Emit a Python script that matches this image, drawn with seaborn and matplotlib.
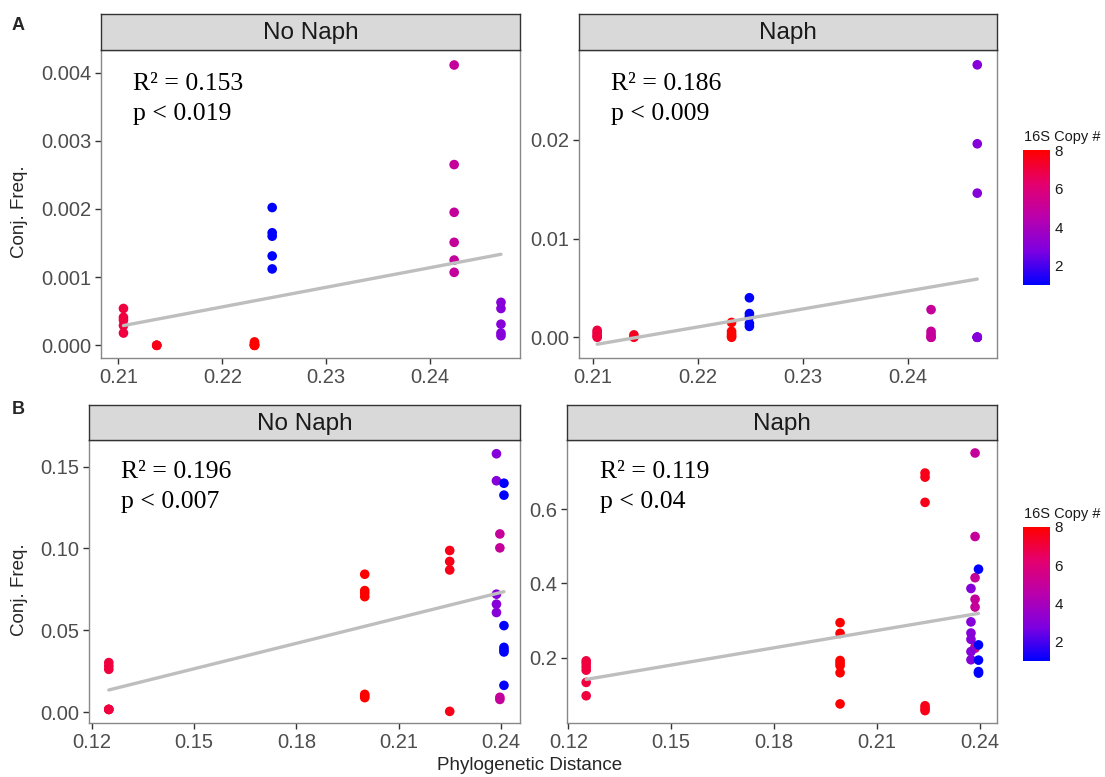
import numpy as np
import pandas as pd
import matplotlib
matplotlib.use("Agg")
import matplotlib.pyplot as plt
import seaborn as sns
from matplotlib.colors import LinearSegmentedColormap, Normalize
from matplotlib.cm import ScalarMappable
from matplotlib.ticker import FormatStrFormatter

sns.set_theme(style="white")
plt.rcParams['font.family'] = ['Liberation Sans', 'DejaVu Sans']

# ---------------- data ----------------
# Panel A, No Naph
a_nn_dist = [0.2105]*5 + [0.2137]*3 + [0.2231]*6 + [0.2248]*5 + [0.2423]*6 + [0.2468]*5
a_nn_freq = [0.00054, 0.00041, 0.00037, 0.00029, 0.00018,
             0.0, 0.0, 0.0,
             0.00005, 0.00003, 0.00001, 0.0, 0.0, 0.0,
             0.00202, 0.00165, 0.00160, 0.00131, 0.00112,
             0.00411, 0.00265, 0.00195, 0.00151, 0.00125, 0.00107,
             0.00063, 0.00054, 0.00031, 0.00018, 0.00014]
a_nn_copy = [7]*5 + [7.6]*3 + [8]*6 + [1]*5 + [5]*6 + [3]*5

# Panel A, Naph
a_n_dist = [0.2104]*5 + [0.2139]*2 + [0.2232]*5 + [0.2249]*5 + [0.2422]*5 + [0.2466]*7
a_n_freq = [0.0007, 0.0005, 0.0003, 0.0001, 0.0,
            0.00024, 0.0,
            0.0015, 0.0006, 0.00034, 0.00014, 0.0,
            0.0040, 0.0024, 0.0021, 0.0014, 0.0011,
            0.0028, 0.0006, 0.0003, 0.0, 0.0,
            0.0276, 0.0196, 0.0146, 0.0, 0.0, 0.0, 0.0]
a_n_copy = [7]*5 + [7.5]*2 + [8]*5 + [1]*5 + [5]*5 + [3]*7

# Panel B, No Naph
b_nn_dist = [0.125]*6 + [0.2]*7 + [0.2249]*4 + [0.2386]*5 + [0.2396]*4 + [0.2408]*7
b_nn_freq = [0.0302, 0.0281, 0.0261, 0.0016, 0.0016, 0.0016,
             0.0842, 0.0742, 0.0726, 0.0705, 0.0108, 0.0098, 0.0088,
             0.0987, 0.0920, 0.0868, 0.0004,
             0.1578, 0.1413, 0.0720, 0.0659, 0.0608,
             0.1088, 0.1003, 0.0090, 0.0077,
             0.1398, 0.1325, 0.0528, 0.0395, 0.0379, 0.0367, 0.0163]
b_nn_copy = [7]*6 + [8]*7 + [7.6]*4 + [3]*5 + [5]*4 + [1]*7

# Panel B, Naph
b_n_dist = [0.1252]*6 + [0.1993]*7 + [0.2241]*6 + [0.2387]*7 + [0.2375]*6 + [0.2397]*5
b_n_freq = [0.191, 0.184, 0.175, 0.166, 0.133, 0.097,
            0.294, 0.265, 0.192, 0.185, 0.178, 0.159, 0.075,
            0.697, 0.686, 0.618, 0.070, 0.063, 0.057,
            0.751, 0.526, 0.415, 0.357, 0.336, 0.229, 0.225,
            0.386, 0.296, 0.266, 0.249, 0.216, 0.194,
            0.438, 0.234, 0.193, 0.162, 0.158]
b_n_copy = [7]*6 + [8]*7 + [7.6]*6 + [5]*7 + [3]*6 + [1]*5

annot_r2 = ["0.153", "0.186", "0.196", "0.119"]
annot_p = ["0.019", "0.009", "0.007", "0.04"]
strip_labels = ["No Naph", "Naph", "No Naph", "Naph"]

# ---------------- style ----------------
cmap = LinearSegmentedColormap.from_list(
    "bluered", [(0.0, (0/255, 0/255, 255/255)),
                (0.25, (125/255, 0, 225/255)),
                (0.5, (185/255, 0, 172/255)),
                (0.75, (228/255, 0, 110/255)),
                (1.0, (255/255, 0, 0))])
norm = Normalize(1, 8)

W, H = 1105, 777
fig = plt.figure(figsize=(W/100, H/100), dpi=100)

def rect(x0, y0, x1, y1):
    return [x0/W, 1 - y1/H, (x1-x0)/W, (y1-y0)/H]

panels = [
    dict(d=a_nn_dist, f=a_nn_freq, c=a_nn_copy, box=(101, 50, 520, 358), strip=(101, 14, 520, 50),
         xlim=(0.20834, 0.24863), ylim=(-0.000186, 0.00433),
         xt=[0.21, 0.22, 0.23, 0.24], yt=[0, 0.001, 0.002, 0.003, 0.004], xf="%.2f", yf="%.3f"),
    dict(d=a_n_dist, f=a_n_freq, c=a_n_copy, box=(579, 50, 997, 358), strip=(579, 14, 997, 50),
         xlim=(0.20867, 0.24848), ylim=(-0.0021, 0.0291),
         xt=[0.21, 0.22, 0.23, 0.24], yt=[0, 0.01, 0.02], xf="%.2f", yf="%.2f"),
    dict(d=b_nn_dist, f=b_nn_freq, c=b_nn_copy, box=(89, 440, 520, 723), strip=(89, 405, 520, 440),
         xlim=(0.1192, 0.2455), ylim=(-0.0067, 0.1662),
         xt=[0.12, 0.15, 0.18, 0.21, 0.24], yt=[0, 0.05, 0.10, 0.15], xf="%.2f", yf="%.2f"),
    dict(d=b_n_dist, f=b_n_freq, c=b_n_copy, box=(567, 440, 997, 723), strip=(567, 405, 997, 440),
         xlim=(0.1196, 0.2451), ylim=(0.0236, 0.786),
         xt=[0.12, 0.15, 0.18, 0.21, 0.24], yt=[0.2, 0.4, 0.6], xf="%.2f", yf="%.1f"),
]

tick_col = "#4D4D4D"
for i, p in enumerate(panels):
    ax = fig.add_axes(rect(*p["box"]))
    df = pd.DataFrame({"dist": p["d"], "freq": p["f"], "copy": p["c"]})
    sns.scatterplot(data=df, x="dist", y="freq", hue="copy", palette=cmap, hue_norm=norm,
                    legend=False, s=48, linewidth=0, ax=ax, zorder=2)
    sns.regplot(data=df, x="dist", y="freq", scatter=False, ci=None, truncate=True,
                line_kws=dict(color="#BEBEBE", lw=2.4, zorder=3), ax=ax)
    ax.set_xlim(*p["xlim"]); ax.set_ylim(*p["ylim"])
    ax.set_xticks(p["xt"]); ax.set_yticks(p["yt"])
    ax.xaxis.set_major_formatter(FormatStrFormatter(p["xf"]))
    ax.yaxis.set_major_formatter(FormatStrFormatter(p["yf"]))
    ax.tick_params(axis="both", which="major", length=4, width=1, color="#333333",
                   labelsize=14.5, labelcolor=tick_col, direction="out", pad=3,
                   bottom=True, left=True)
    for s in ax.spines.values():
        s.set_color("#888888"); s.set_linewidth(1.0)
    ax.set_xlabel(""); ax.set_ylabel("")
    ax.set_facecolor("white")
    ax.text(0.076 if i != 2 else 0.075, 0.925, "R² = " + annot_r2[i] + "\np < " + annot_p[i],
            transform=ax.transAxes, ha="left", va="top", fontsize=18.5,
            family="Liberation Serif", linespacing=1.45, color="black")
    # strip
    sax = fig.add_axes(rect(*p["strip"]))
    sax.set_facecolor("#D9D9D9")
    sax.set_xticks([]); sax.set_yticks([])
    for s in sax.spines.values():
        s.set_color("#333333"); s.set_linewidth(1.0)
    sax.text(0.5, 0.47, strip_labels[i], transform=sax.transAxes, ha="center", va="center",
             fontsize=17.5, color="#1A1A1A")

# colorbars
for (y0, y1) in [(150, 285), (527, 661)]:
    cax = fig.add_axes(rect(1023, y0, 1050, y1))
    cb = fig.colorbar(ScalarMappable(norm=norm, cmap=cmap), cax=cax, ticks=[2, 4, 6, 8])
    cb.outline.set_visible(False)
    cax.tick_params(length=4, width=0.8, color="white", direction="in", labelsize=11,
                    labelcolor="#1A1A1A", pad=3)
    fig.text(1024/W, 1 - (y0 - 6)/H, "16S Copy #", ha="left", va="bottom", fontsize=10.5,
             color="#1A1A1A")

fig.text(20/W, 1 - 212/H, "Conj. Freq.", rotation=90, ha="center", va="center", fontsize=13.5)
fig.text(20/W, 1 - 590/H, "Conj. Freq.", rotation=90, ha="center", va="center", fontsize=13.5)
fig.text(530/W, 1 - 766/H, "Phylogenetic Distance", ha="center", va="center", fontsize=13.5)
fig.text(12/W, 1 - 25/H, "A", ha="left", va="center", fontsize=13, fontweight="bold")
fig.text(12/W, 1 - 410/H, "B", ha="left", va="center", fontsize=13, fontweight="bold")

fig.savefig("out.png", dpi=100, facecolor="white")
